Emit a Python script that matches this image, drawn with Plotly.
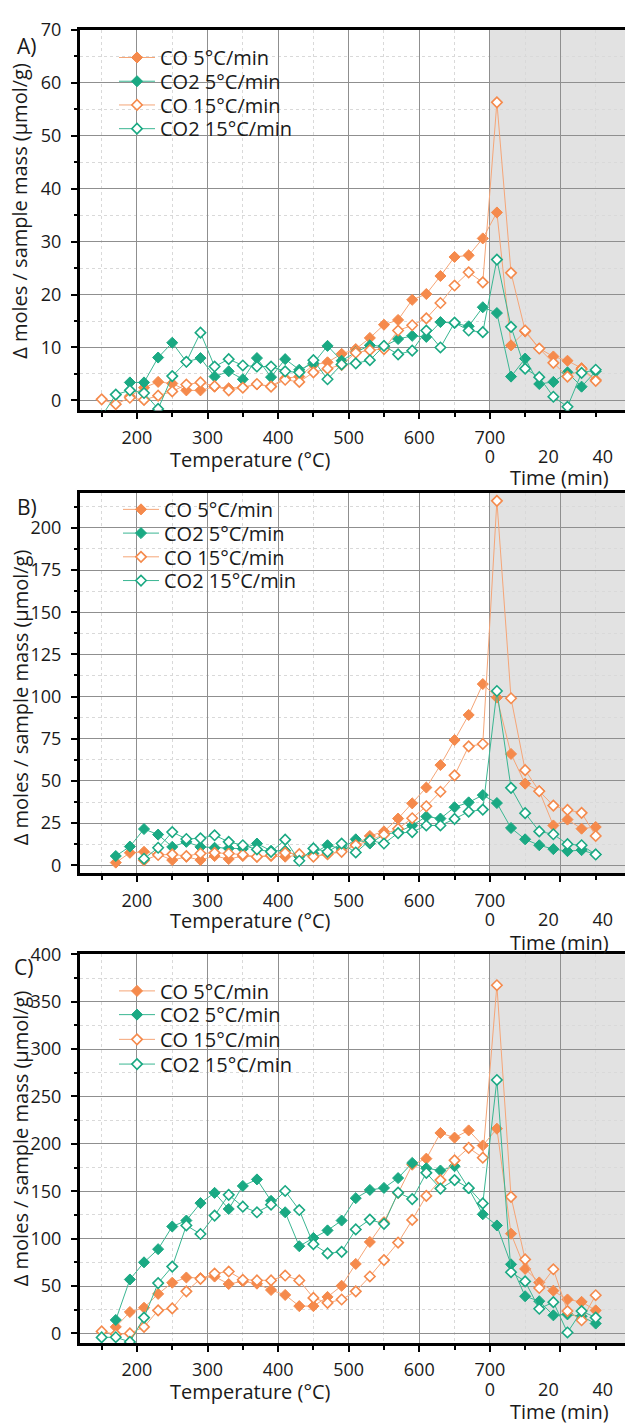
import plotly.graph_objects as go

# ---------------- data ----------------
# x positions: temperature (°C) for the ramp, then the isothermal hold (time axis) continues in the shaded area
x_pos = [150, 170, 190, 210, 230, 250, 270, 290, 310, 330, 350, 370, 390, 410, 430, 450, 470, 490,
         510, 530, 550, 570, 590, 610, 630, 650, 670, 690, 710, 730, 750, 770, 790, 810, 830, 850]

a_co_5 = [None, None, 0.8, 2.4, 3.5, 3.2, 1.9, 1.9, 2.6, 2.3, 2.5, 3.0, 2.7, 4.2, 4.5, 6.7, 7.2, 8.8,
          9.7, 11.8, 14.3, 15.2, 19.0, 20.1, 23.5, 27.1, 27.4, 30.6, 35.5, 10.4, 13.0, 9.8, 8.3, 7.5, 6.1, 3.9]
a_co2_5 = [None, None, 3.4, 3.4, 8.1, 10.9, 7.3, 8.0, 4.5, 5.5, 4.0, 8.0, 4.4, 7.8, 5.8, 7.0, 10.3, 7.5,
           9.1, 10.4, 10.2, 11.6, 12.2, 12.0, 14.8, 14.6, 14.0, 17.6, 16.5, 4.5, 7.9, 3.1, 3.5, 5.3, 2.6, 5.5]
a_co_15 = [0.2, -0.7, 0.5, 0.1, 0.9, 1.7, 3.0, 3.4, 2.7, 1.9, 2.4, 3.1, 2.6, 3.9, 3.5, 5.3, 6.0, 6.7,
           9.0, 9.5, 9.7, 13.2, 14.2, 15.5, 18.4, 21.7, 24.2, 22.3, 56.3, 24.1, 13.2, 9.8, 7.1, 4.5, 5.9, 3.7]
a_co2_15 = [-3.0, 1.1, 1.9, 1.4, -1.6, 4.6, 7.3, 12.8, 6.4, 7.8, 6.6, 6.4, 6.4, 5.5, 5.3, 7.6, 4.0, 6.8,
            7.0, 7.6, 10.3, 8.7, 9.4, 13.2, 10.0, 14.7, 13.2, 12.9, 26.6, 13.9, 6.0, 4.4, 0.7, -1.2, 5.2, 5.8]

b_co_5 = [None, 1.6, 7.4, 8.0, 6.5, 3.1, 5.0, 3.1, 5.5, 3.7, 5.5, 5.0, 5.5, 5.1, 6.0, 5.5, 6.6, 8.5,
          12.4, 17.4, 20.1, 27.7, 36.7, 46.1, 59.4, 74.2, 89.1, 107.4, 99.4, 66.0, 48.4, 44.0, 23.6, 27.1, 21.7, 22.7]
b_co2_5 = [None, 5.5, 11.1, 21.5, 18.2, 10.9, 13.9, 10.9, 10.4, 10.0, 9.8, 12.9, 8.6, 8.6, 5.1, 7.0, 11.9, 9.8,
           15.4, 12.9, 18.2, 19.7, 23.6, 28.9, 27.7, 34.4, 37.3, 41.6, 36.9, 22.1, 15.4, 11.9, 9.6, 8.4, 9.0, 6.5]
b_co_15 = [None, None, None, 3.0, 6.1, 6.5, 5.5, 7.0, 7.4, 7.0, 6.3, 5.1, 5.9, 7.4, 6.6, 5.1, 6.6, 8.0,
           11.9, 14.8, 18.2, 21.7, 27.9, 35.0, 43.6, 53.3, 70.5, 71.9, 216.0, 99.0, 56.4, 43.9, 35.4, 32.8, 31.1, 17.4]
b_co2_15 = [None, None, None, 3.9, 10.4, 19.7, 15.6, 16.0, 17.8, 13.9, 11.9, 9.4, 8.0, 15.2, 2.7, 10.0, 8.0, 12.9,
            7.6, 14.8, 12.9, 19.1, 19.7, 23.6, 23.6, 27.5, 31.8, 33.0, 103.3, 45.9, 30.9, 20.1, 18.4, 12.5, 11.9, 6.4]

c_co_5 = [None, 6.9, 22.6, 27.1, 41.7, 53.5, 59.0, 58.5, 60.0, 52.1, 55.0, 52.5, 45.8, 40.6, 28.8, 28.8, 38.5, 50.3,
          73.3, 96.5, 117.4, 148.0, 178.0, 184.4, 211.5, 206.6, 214.2, 198.3, 216.0, 105.2, 68.1, 53.8, 45.1, 35.8, 33.3, 24.3]
c_co2_5 = [None, 14.2, 56.9, 75.0, 88.9, 112.8, 119.1, 137.5, 148.3, 131.3, 155.6, 162.5, 139.9, 127.8, 92.0, 100.7, 108.7, 119.1,
           142.7, 151.4, 153.5, 163.9, 179.9, 174.3, 171.9, 176.4, 153.0, 125.7, 113.9, 72.9, 39.2, 34.0, 19.1, 20.1, 18.0, 10.4]
c_co_15 = [2.1, -1.0, 0.0, 6.9, 24.3, 26.4, 44.4, 57.6, 63.2, 65.3, 56.6, 55.9, 55.9, 61.1, 55.9, 37.5, 32.3, 35.8,
           44.4, 60.1, 77.4, 95.8, 119.8, 145.1, 161.8, 182.6, 195.8, 185.4, 367.4, 144.1, 78.1, 47.9, 67.7, 23.6, 13.9, 40.3]
c_co2_15 = [-4.2, -4.0, -9.0, 16.7, 53.1, 70.5, 113.9, 104.9, 124.3, 146.2, 133.7, 127.8, 135.8, 150.3, 130.2, 94.1, 84.4, 86.1,
            109.7, 120.1, 115.6, 148.6, 141.7, 169.4, 152.8, 161.8, 153.5, 137.2, 267.4, 64.6, 54.9, 26.0, 33.0, 1.0, 23.6, 16.7]

series_names = ["CO 5°C/min", "CO2 5°C/min", "CO 15°C/min", "CO2 15°C/min"]
panel_labels = ["A)", "B)", "C)"]
temp_tickvals = [200, 300, 400, 500, 600, 700, 800]
temp_ticktext = ["200", "300", "400", "500", "600", "700", ""]
temp_minor_vals = [150, 250, 350, 450, 550, 650, 750, 850]
time_tickvals = [700, 783, 860]
time_ticktext = ["0", "20", "40"]

panels = [
    [a_co_5, a_co2_5, a_co_15, a_co2_15],
    [b_co_5, b_co2_5, b_co_15, b_co2_15],
    [c_co_5, c_co2_5, c_co_15, c_co2_15],
]

# ---------------- styling ----------------
W, H = 625, 1425
ORANGE = "#F58A4C"
TEAL = "#1AA983"
ORANGE_LINE = "#F5A577"
TEAL_LINE = "#3AB692"
FONT = "Open Sans"
TICK_FS = 18
TITLE_FS = 20
LEG_FS = 20

def fy(px):
    return 1 - px / H

y_domains = [
    [fy(402), fy(17)],
    [fy(870), fy(485)],
    [fy(1345), fy(952)],
]
y_ranges = [[-1.9, 70.0], [-4.7, 220.9], [-10.0, 400.0]]
y_dticks = [10, 25, 50]
x_range = [119.3, 891.5]

legend_rows_px = [[45, 69, 93, 117], [502, 526, 550, 574], [989, 1013, 1038, 1063]]
legend_marker_x_px = [135, 139, 135]
ytitle_center_px = [200, 692, 1138]
panel_label_px = [(26, 33), (27, 500), (24, 965)]
ttitle_y_px = [452, 918, 1394]
timetitle_y_px = [470, 940, 1414]

fig = go.Figure()

styles = [
    dict(color=ORANGE, line=ORANGE_LINE, filled=True),
    dict(color=TEAL, line=TEAL_LINE, filled=True),
    dict(color=ORANGE, line=ORANGE_LINE, filled=False),
    dict(color=TEAL, line=TEAL_LINE, filled=False),
]

layout = dict(
    width=W, height=H,
    margin=dict(l=0, r=0, t=0, b=0),
    paper_bgcolor="white", plot_bgcolor="white",
    font=dict(family=FONT, size=TICK_FS, color="#1a1a1a"),
    showlegend=True,
)

for p, data in enumerate(panels):
    sfx = "" if p == 0 else str(p + 1)
    for s, vals in enumerate(data):
        st = styles[s]
        if st["filled"]:
            marker = dict(symbol="diamond", size=8.5, color=st["color"],
                          line=dict(color=st["color"], width=1))
        else:
            marker = dict(symbol="diamond", size=8, color="white",
                          line=dict(color=st["color"], width=1.6))
        n = p * 4 + s + 1
        leg = "legend" if n == 1 else f"legend{n}"
        fig.add_trace(go.Scatter(
            x=x_pos, y=vals, mode="lines+markers", name=series_names[s],
            line=dict(color=st["line"], width=1), marker=marker,
            connectgaps=True,
            xaxis="x" + sfx, yaxis="y" + sfx, legend=leg,
        ))
        layout[leg] = dict(
            x=(legend_marker_x_px[p] - 21) / W, xanchor="left",
            y=fy(legend_rows_px[p][s]), yanchor="middle",
            bgcolor="rgba(0,0,0,0)", borderwidth=0,
            font=dict(size=LEG_FS, family=FONT), itemwidth=36,
        )
    # empty helper trace so the overlaid time axis is drawn
    fig.add_trace(go.Scatter(x=[None], y=[None], mode="markers", showlegend=False,
                             hoverinfo="skip", xaxis="x" + str(p + 4), yaxis="y" + sfx))

shapes = []
annotations = []
for p in range(3):
    sfx = "" if p == 0 else str(p + 1)
    key = "" if p == 0 else str(p + 1)
    layout["xaxis" + key] = dict(
        domain=[80 / W, 1], range=x_range, anchor="y" + sfx,
        tickmode="array", tickvals=temp_tickvals, ticktext=temp_ticktext,
        showgrid=True, gridcolor="#8f8f8f", gridwidth=1,
        showline=True, linecolor="black", linewidth=3, mirror=True,
        ticks="outside", ticklen=6, tickwidth=2, tickcolor="black",
        ticklabelstandoff=3, tickfont=dict(size=TICK_FS),
        minor=dict(tickvals=temp_minor_vals, showgrid=True,
                   gridcolor="#d9d9d9", griddash="dot", gridwidth=1,
                   ticks="outside", ticklen=4, tickcolor="black", tickwidth=2),
        zeroline=False, layer="below traces",
    )
    layout["yaxis" + key] = dict(
        domain=y_domains[p], range=y_ranges[p], anchor="x" + sfx,
        dtick=y_dticks[p], tick0=0,
        showgrid=True, gridcolor="#8f8f8f", gridwidth=1,
        showline=True, linecolor="black", linewidth=3, mirror=False,
        ticks="outside", ticklen=6, tickwidth=2, tickcolor="black",
        ticklabelstandoff=6, tickfont=dict(size=TICK_FS),
        minor=dict(dtick=y_dticks[p] / 2, tick0=0, showgrid=True,
                   gridcolor="#d9d9d9", griddash="dot", gridwidth=1,
                   ticks="outside", ticklen=3, tickcolor="black", tickwidth=2),
        zeroline=False, layer="below traces",
    )
    # time axis labels (overlaying the temperature axis)
    tkey = str(p + 4)
    layout["xaxis" + tkey] = dict(
        overlaying="x" + sfx, anchor="y" + sfx, side="bottom", range=x_range,
        tickmode="array", tickvals=time_tickvals, ticktext=time_ticktext,
        showgrid=False, showline=False, ticks="", zeroline=False,
        ticklabelstandoff=34, tickfont=dict(size=TICK_FS),
    )
    # shaded isothermal region
    shapes.append(dict(type="rect", xref="x" + sfx, yref=f"y{sfx} domain",
                       x0=700, x1=x_range[1] + 10, y0=0, y1=1,
                       fillcolor="#e2e2e2", line=dict(width=0), layer="below"))
    # titles
    common = dict(xref="paper", yref="paper", showarrow=False, xanchor="center", yanchor="middle")
    annotations.append(dict(text="Δ moles / sample mass (μmol/g)", textangle=-90,
                            x=20 / W, y=fy(ytitle_center_px[p]), font=dict(size=TITLE_FS), **common))
    annotations.append(dict(text=panel_labels[p],
                            x=panel_label_px[p][0] / W, y=fy(panel_label_px[p][1]),
                            font=dict(size=21), **common))
    annotations.append(dict(text="Temperature (°C)",
                            x=250 / W, y=fy(ttitle_y_px[p]), font=dict(size=TITLE_FS), **common))
    annotations.append(dict(text="Time (min)",
                            x=559 / W, y=fy(timetitle_y_px[p]), font=dict(size=TITLE_FS), **common))

layout["shapes"] = shapes
layout["annotations"] = annotations
fig.update_layout(**layout)

fig.write_html("out.html")
